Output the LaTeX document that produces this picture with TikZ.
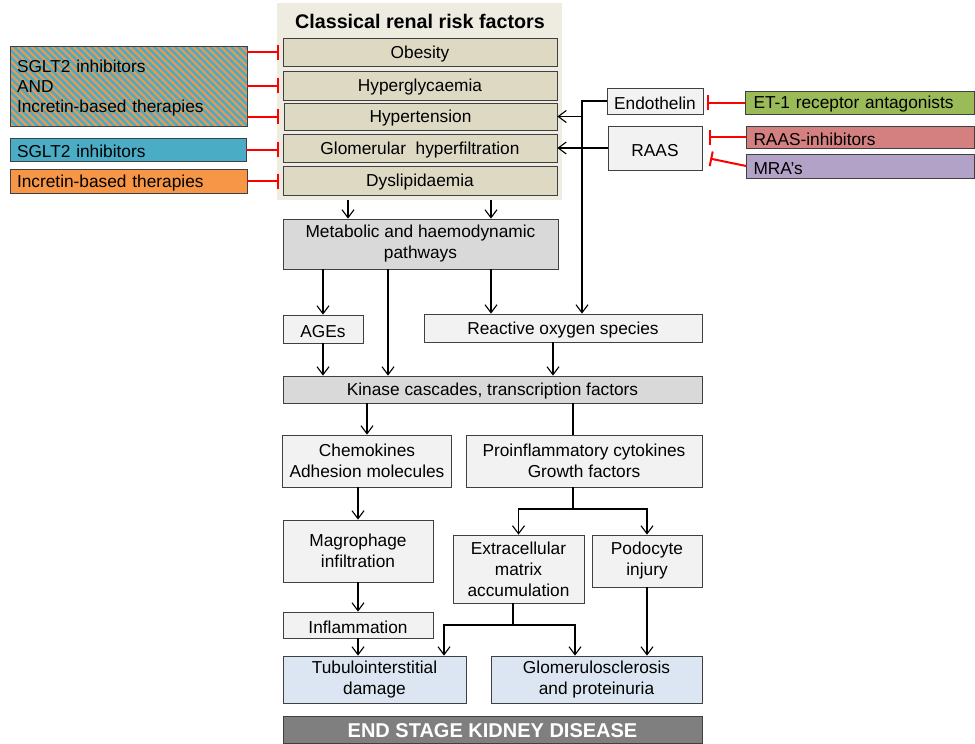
\documentclass[tikz,border=0pt]{standalone}
\usepackage{fontspec}
\setmainfont{Liberation Sans}
\usetikzlibrary{arrows.meta}
\definecolor{bgtan}{HTML}{EEECE1}
\definecolor{boxtan}{HTML}{DDD9C3}
\definecolor{lgray}{HTML}{F2F2F2}
\definecolor{mgray}{HTML}{D9D9D9}
\definecolor{dgray}{HTML}{7F7F7F}
\definecolor{lblue}{HTML}{DCE6F2}
\definecolor{tealb}{HTML}{4BACC6}
\definecolor{orng}{HTML}{F79646}
\definecolor{grn}{HTML}{9BBB59}
\definecolor{rose}{HTML}{D48080}
\definecolor{purp}{HTML}{B3A2C7}
\begin{document}
\begin{tikzpicture}[x=1pt,y=-1pt,
  box/.style={draw=black!75, line width=0.8pt, inner sep=0pt, align=center,
    font=\fontsize{17.3}{21}\selectfont, text=black,
    execute at begin node={\rule{0pt}{16.5pt}}},
  lbox/.style={box, align=left},
  arr/.style={draw=black, line width=1.1pt, -{Straight Barb[length=8pt,width=12pt,line width=1.1pt]}},
  plain/.style={draw=black, line width=1.1pt},
  inh/.style={draw=red, line width=2pt, -{Bar[width=15pt,line width=2pt]}},
]
\useasboundingbox (0,0) rectangle (975,744);

% background of classical risk factors
\node[fill=bgtan, minimum width=285pt, minimum height=197pt, inner sep=0pt] (bg) at (419.5,101.5) {};
\node[font=\bfseries\fontsize{19.7}{22}\selectfont, inner sep=0pt] (title) at (420,21) {Classical renal risk factors};

\node[box, fill=boxtan, minimum width=274pt, minimum height=28pt] (ob) at (420,52) {Obesity};
\node[box, fill=boxtan, minimum width=274pt, minimum height=29pt] (hg) at (420,85.5) {Hyperglycaemia};
\node[box, fill=boxtan, minimum width=273pt, minimum height=27pt] (ht) at (420.5,116.5) {Hypertension};
\node[box, fill=boxtan, minimum width=274pt, minimum height=28pt] (gh) at (420,148) {Glomerular~ hyperfiltration};
\node[box, fill=boxtan, minimum width=274pt, minimum height=29pt] (dl) at (420,180.5) {Dyslipidaemia};

% left therapy boxes
\node[lbox, fill=tealb, minimum width=237pt, minimum height=80pt, text width=223pt,
  font=\fontsize{17.3}{20}\selectfont,
  path picture={\foreach \i in {0,...,50}{\draw[orng, line width=2pt]
    ([xshift=\i*7pt-100pt, yshift=2pt]path picture bounding box.north west) -- ++(100pt,-100pt);}}]
  (hatch) at (128.5,86) {SGLT2 inhibitors\\AND\\Incretin-based therapies};
\node[lbox, fill=tealb, minimum width=236pt, minimum height=23pt, text width=222pt] (sg) at (128,149.5) {SGLT2 inhibitors};
\node[lbox, fill=orng, minimum width=237pt, minimum height=24pt, text width=223pt] (inc) at (128.5,181) {Incretin-based therapies};

% right side
\node[box, fill=lgray, minimum width=96pt, minimum height=26pt] (endo) at (655,101) {Endothelin};
\node[box, fill=lgray, minimum width=94pt, minimum height=44pt] (raas) at (655,148) {RAAS};
\node[lbox, fill=grn, minimum width=229pt, minimum height=23pt, text width=213pt] (et1) at (860,102.5) {ET-1 receptor antagonists};
\node[lbox, fill=rose, minimum width=228pt, minimum height=22pt, text width=214pt] (ri) at (860.5,137) {RAAS-inhibitors};
\node[lbox, fill=purp, minimum width=228pt, minimum height=24pt, text width=214pt] (mra) at (860.5,166) {MRA’s};

% pathway boxes
\node[box, fill=mgray, minimum width=275pt, minimum height=50pt] (meta) at (420.5,244) {Metabolic and haemodynamic\\pathways};
\node[box, fill=lgray, minimum width=80pt, minimum height=28pt] (ages) at (323,329) {AGEs};
\node[box, fill=lgray, minimum width=278pt, minimum height=28pt] (ros) at (563,328) {Reactive oxygen species};
\node[box, fill=mgray, minimum width=419pt, minimum height=27pt] (kin) at (492.5,389.5) {Kinase cascades, transcription factors};
\node[box, fill=lgray, minimum width=169pt, minimum height=52pt] (chem) at (367,461) {Chemokines\\Adhesion molecules};
\node[box, fill=lgray, minimum width=236pt, minimum height=52pt] (pro) at (584,461) {Proinflammatory cytokines\\Growth factors};
\node[box, fill=lgray, minimum width=150pt, minimum height=62pt] (mag) at (358,551) {Magrophage\\infiltration};
\node[box, fill=lgray, minimum width=131pt, minimum height=68pt] (ecm) at (518.5,569) {Extracellular\\matrix\\accumulation};
\node[box, fill=lgray, minimum width=110pt, minimum height=52pt] (pod) at (647,561) {Podocyte\\injury};
\node[box, fill=lgray, minimum width=150pt, minimum height=26pt] (infl) at (358,625) {Inflammation};
\node[box, fill=lblue, minimum width=183pt, minimum height=47pt] (tub) at (374.5,679.5) {Tubulointerstitial\\damage};
\node[box, fill=lblue, minimum width=211pt, minimum height=47pt] (glo) at (596.5,679.5) {Glomerulosclerosis\\and proteinuria};
\node[box, fill=dgray, minimum width=419pt, minimum height=27.5pt, text=white,
  font=\bfseries\fontsize{20}{22}\selectfont] (esk) at (492.5,729.75) {END STAGE KIDNEY DISEASE};

% helper coordinates
\coordinate (c348) at (348,0);
\coordinate (c491) at (491,0);
\coordinate (c388) at (388,0);
\coordinate (c582) at (582,0);
\coordinate (c553) at (553,0);
\coordinate (c573) at (573,0);
\coordinate (c444) at (444,0);
\coordinate (c575) at (575,0);
\coordinate (pj) at (573,509);
\coordinate (ej) at (513,625);

% inhibition connectors
\draw[inh, shorten >=3.5pt] (hatch.east |- ob.west) -- (ob.west);
\draw[inh, shorten >=3.5pt] (hatch.east |- hg.west) -- (hg.west);
\draw[inh, shorten >=4.5pt] (hatch.east |- ht.west) -- (ht.west);
\draw[inh, shorten >=3.5pt] (sg.east) -- (sg.east -| gh.west);
\draw[inh, shorten >=3.5pt] (inc.east) -- (inc.east -| dl.west);
\draw[inh, shorten >=4pt] (et1.west) -- (et1.west -| endo.east);
\draw[inh, shorten >=7pt] (ri.west) -- (ri.west -| raas.east);
\draw[inh, shorten >=8pt] (mra.west) -- ([yshift=-9pt]raas.east);

% black connectors
\draw[arr] (bg.south -| c348) -- (meta.north -| c348);
\draw[arr] (bg.south -| c491) -- (meta.north -| c491);
\draw[arr] (endo.west) -| (ros.north -| c582);
\draw[arr] (c582 |- ht.east) -- (ht.east);
\draw[arr] (raas.west) -- (gh.east);
\draw[arr] (meta.south -| ages.north) -- (ages.north);
\draw[arr] (meta.south -| c388) -- (kin.north -| c388);
\draw[arr] (meta.south -| c491) -- (ros.north -| c491);
\draw[arr] (ages.south) -- (kin.north -| ages.south);
\draw[arr] (ros.south -| c553) -- (kin.north -| c553);
\draw[arr] (kin.south -| chem.north) -- (chem.north);
\draw[plain] (kin.south -| c573) -- (pro.north -| c573);
\draw[arr] (chem.south -| mag.north) -- (mag.north);
\draw[plain] (pro.south -| pj) -- (pj);
\draw[arr] (pj) -| (ecm.north);
\draw[arr] (pj) -| (pod.north);
\draw[arr] (mag.south) -- (infl.north);
\draw[arr] (infl.south) -- (tub.north -| infl.south);
\draw[plain] (ecm.south -| ej) -- (ej);
\draw[arr] (ej) -| (tub.north -| c444);
\draw[arr] (ej) -| (glo.north -| c575);
\draw[arr] (pod.south) -- (glo.north -| pod.south);
\end{tikzpicture}
\end{document}
